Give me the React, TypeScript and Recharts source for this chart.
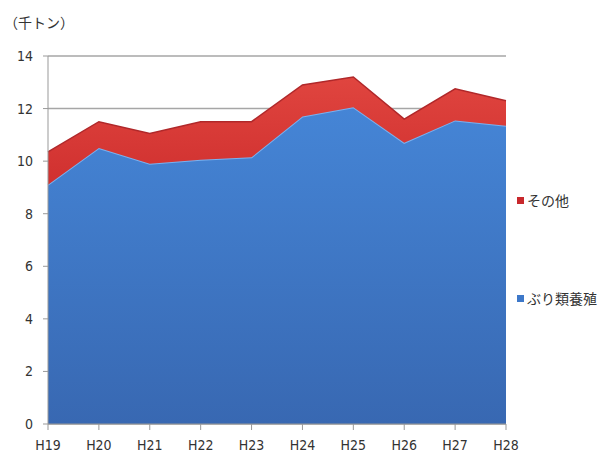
import { AreaChart, Area, XAxis, YAxis, CartesianGrid } from 'recharts';

const years = ['H19', 'H20', 'H21', 'H22', 'H23', 'H24', 'H25', 'H26', 'H27', 'H28'];
const buriFarming = [9.1, 10.5, 9.9, 10.05, 10.15, 11.7, 12.05, 10.7, 11.55, 11.35];
const others = [1.25, 1.0, 1.15, 1.45, 1.35, 1.2, 1.15, 0.9, 1.2, 0.95];
const yTicks = [0, 2, 4, 6, 8, 10, 12, 14];

const chartData = years.map((year, i) => ({
  year,
  buri: buriFarming[i],
  other: others[i],
}));

const font = '"DejaVu Sans Condensed", "Liberation Sans Narrow", sans-serif';

function SideLegend() {
  const items = [
    { name: 'その他', color: '#c8282c' },
    { name: 'ぶり類養殖', color: '#3d78c9' },
  ];
  return (
    <div style={{ fontFamily: '"Noto Sans CJK JP", sans-serif', fontSize: 14, color: '#333' }}>
      {items.map((item, i) => (
        <div key={item.name} style={{ display: 'flex', alignItems: 'center', marginTop: i === 0 ? 0 : 78 }}>
          <span style={{ width: 7, height: 7, background: item.color, marginRight: 3, display: 'inline-block' }} />
          {item.name}
        </div>
      ))}
    </div>
  );
}

export default function App() {
  return (
    <div style={{ position: 'relative', width: 601, height: 459, background: '#fff' }}>
      <style>{`body{margin:0}`}</style>
      <div
        style={{
          position: 'absolute',
          left: 4,
          top: 12,
          fontFamily: '"Noto Sans CJK JP", sans-serif',
          fontSize: 14,
          color: '#333',
        }}
      >
        （千トン）
      </div>
      <div style={{ position: 'absolute', left: 517, top: 190 }}>
        <SideLegend />
      </div>
      <AreaChart width={601} height={459} data={chartData} margin={{ top: 56, right: 95, bottom: 5, left: 0 }}>
        <defs>
          <linearGradient id="blueFill" x1="0" y1="0" x2="0" y2="1">
            <stop offset="0%" stopColor="#4585d6" />
            <stop offset="100%" stopColor="#3868b2" />
          </linearGradient>
          <linearGradient id="redFill" x1="0" y1="0" x2="0" y2="1">
            <stop offset="0%" stopColor="#e0453f" />
            <stop offset="100%" stopColor="#d0302f" />
          </linearGradient>
        </defs>
        <CartesianGrid vertical={false} stroke="#a6a6a6" strokeWidth={1.5} />
        <XAxis
          dataKey="year"
          tick={{ fontSize: 14, fill: '#333', fontFamily: font }}
          tickLine={{ stroke: '#999' }}
          axisLine={{ stroke: '#999' }}
          tickSize={6}
          tickMargin={10}
        />
        <YAxis
          width={48}
          domain={[0, 14]}
          ticks={yTicks}
          tick={{ fontSize: 14, fill: '#333', fontFamily: font }}
          tickLine={{ stroke: '#999' }}
          axisLine={{ stroke: '#999' }}
          tickSize={5}
          tickMargin={10}
        />
        <Area
          type="linear"
          dataKey="buri"
          name="ぶり類養殖"
          stackId="a"
          fill="url(#blueFill)"
          fillOpacity={1}
          stroke="#79b1f0"
          strokeWidth={2}
          isAnimationActive={false}
        />
        <Area
          type="linear"
          dataKey="other"
          name="その他"
          stackId="a"
          fill="url(#redFill)"
          fillOpacity={1}
          stroke="#b0282a"
          strokeWidth={1.5}
          isAnimationActive={false}
        />
      </AreaChart>
    </div>
  );
}
